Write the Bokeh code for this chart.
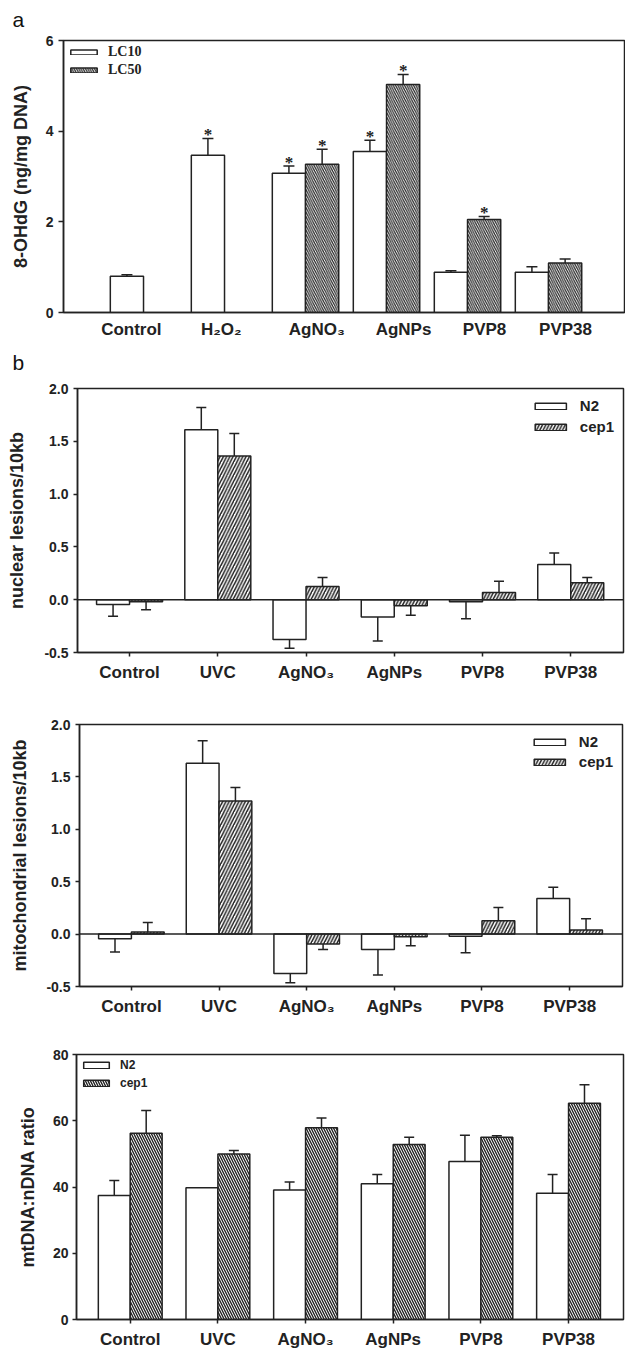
import math
from bokeh.plotting import figure
from bokeh.models import (ColumnDataSource, Whisker, TeeHead, FixedTicker, Span, LinearAxis,
                          Legend, LegendItem, Title, PrintfTickFormatter)
from bokeh.embed import file_html
from bokeh.resources import INLINE
from bokeh.core.properties import value

NaN = float("nan")

# ---------------- data: panel a (8-OHdG) ----------------
a_categories = ["Control", "H₂O₂", "AgNO₃", "AgNPs", "PVP8", "PVP38"]
a_lc10 = [0.80, 3.47, 3.07, 3.55, 0.89, 0.89]
a_lc10_se = [0.03, 0.37, 0.16, 0.25, 0.03, 0.12]
a_lc50 = [NaN, NaN, 3.27, 5.03, 2.05, 1.09]
a_lc50_se = [NaN, NaN, 0.33, 0.22, 0.07, 0.09]
a_lc10_sig = [False, True, True, True, False, False]
a_lc50_sig = [False, False, True, True, True, False]
a_yticks = [0, 2, 4, 6]

# ---------------- data: panel b ----------------
b_categories = ["Control", "UVC", "AgNO₃", "AgNPs", "PVP8", "PVP38"]
nuc_n2 = [-0.045, 1.61, -0.377, -0.164, -0.02, 0.333]
nuc_n2_se = [0.112, 0.21, 0.083, 0.226, 0.16, 0.11]
nuc_cep1 = [-0.02, 1.36, 0.125, -0.057, 0.069, 0.16]
nuc_cep1_se = [0.075, 0.215, 0.085, 0.091, 0.106, 0.05]

mito_n2 = [-0.045, 1.63, -0.375, -0.146, -0.02, 0.34]
mito_n2_se = [0.125, 0.215, 0.089, 0.244, 0.158, 0.107]
mito_cep1 = [0.02, 1.27, -0.095, -0.025, 0.127, 0.038]
mito_cep1_se = [0.09, 0.13, 0.051, 0.085, 0.127, 0.108]
lesion_yticks = [-0.5, 0.0, 0.5, 1.0, 1.5, 2.0]

ratio_n2 = [37.4, 39.8, 39.1, 41.0, 47.7, 38.1]
ratio_n2_se = [4.6, 0.0, 2.4, 2.8, 7.9, 5.7]
ratio_cep1 = [56.2, 50.0, 57.9, 52.8, 55.0, 65.3]
ratio_cep1_se = [6.9, 1.0, 2.9, 2.2, 0.5, 5.6]
ratio_yticks = [0, 20, 40, 60, 80]

# ---------------- styling ----------------
INK = "#222222"
FONT = "Liberation Sans"
SERIF = "Liberation Serif"
W = 625
# panel a labels were placed slightly off the group centres in the original
a_label_shift = [-0.15, -0.04, 0.14, 0.21, 0.21, 0.21]


def base_fig(height, x_range, y_range, borders):
    L, R, T, B = borders
    p = figure(width=W, height=height, x_range=x_range, y_range=y_range,
               output_backend="svg", toolbar_location=None,
               min_border_left=L, min_border_right=R,
               min_border_top=T, min_border_bottom=B)
    p.xgrid.visible = False
    p.ygrid.visible = False
    p.outline_line_color = INK
    p.outline_line_width = 1.5
    for ax in (p.xaxis[0], p.yaxis[0]):
        ax.axis_line_color = INK
        ax.axis_line_width = 1.5
        ax.major_tick_line_color = INK
        ax.major_tick_line_width = 1.5
        ax.minor_tick_line_color = None
        ax.major_tick_in = 0
        ax.major_label_text_font = FONT
        ax.major_label_text_color = INK
        ax.axis_label_text_font = FONT
        ax.axis_label_text_color = INK
    return p


def bars(p, offset, vals, width, **style):
    xs = [i + offset for i, v in enumerate(vals) if not math.isnan(v)]
    ys = [v for v in vals if not math.isnan(v)]
    src = ColumnDataSource(dict(x=xs, top=ys))
    return p.vbar(x="x", top="top", bottom=0, width=width, source=src,
                  fill_color="white", line_color=INK, line_width=1.5, **style)


def errors(p, offset, vals, ses, cap=10):
    up = dict(x=[], lo=[], hi=[])
    dn = dict(x=[], lo=[], hi=[])
    for i, (v, s) in enumerate(zip(vals, ses)):
        if math.isnan(v) or math.isnan(s) or s <= 0:
            continue
        if v >= 0:
            up["x"].append(i + offset); up["lo"].append(v); up["hi"].append(v + s)
        else:
            dn["x"].append(i + offset); dn["lo"].append(v - s); dn["hi"].append(v)
    if up["x"]:
        p.add_layout(Whisker(source=ColumnDataSource(up), base="x", lower="lo", upper="hi",
                             dimension="height", lower_head=None,
                             upper_head=TeeHead(size=cap, line_color=INK, line_width=1.5),
                             line_color=INK, line_width=1.5, level="annotation"))
    if dn["x"]:
        p.add_layout(Whisker(source=ColumnDataSource(dn), base="x", lower="lo", upper="hi",
                             dimension="height", upper_head=None,
                             lower_head=TeeHead(size=cap, line_color=INK, line_width=1.5),
                             line_color=INK, line_width=1.5, level="annotation"))


def stars(p, offset, vals, ses, sig):
    xs = [i + offset for i, s in enumerate(sig) if s]
    ys = [vals[i] + ses[i] for i, s in enumerate(sig) if s]
    p.text(x=xs, y=ys, text=["*"] * len(xs), text_font=value(SERIF),
           text_font_style="bold", text_font_size="17px", text_color=INK,
           text_align="center", text_baseline="middle", y_offset=-4)


def cat_axis(p, categories, size="17px", style="bold", shift=None, tick_out=4, standoff=6):
    pos = [i + (shift[i] if shift else 0.0) for i in range(len(categories))]
    ax = p.xaxis[0]
    ax.ticker = FixedTicker(ticks=pos)
    ax.major_label_overrides = {x: c for x, c in zip(pos, categories)}
    ax.major_label_text_font_size = size
    ax.major_label_text_font_style = style
    ax.major_tick_out = tick_out
    ax.major_label_standoff = standoff


def val_axis(p, ticks, label, fmt=None, label_size="14px", label_style="bold",
             title_size="18px", tick_out=4, standoff=5, title_standoff=14):
    ax = p.yaxis[0]
    ax.ticker = FixedTicker(ticks=ticks)
    if fmt:
        ax.formatter = PrintfTickFormatter(format=fmt)
    ax.major_label_text_font_size = label_size
    ax.major_label_text_font_style = label_style
    ax.major_tick_out = tick_out
    ax.major_label_standoff = standoff
    ax.axis_label = label
    ax.axis_label_text_font_size = title_size
    ax.axis_label_text_font_style = "bold"
    ax.axis_label_standoff = title_standoff


def legend(p, items, location, font, size, style, gw, gh, margin, padding, spacing, standoff):
    lg = Legend(items=[LegendItem(label=l, renderers=[r]) for l, r in items],
                location=location, glyph_width=gw, glyph_height=gh,
                label_text_font=font, label_text_font_size=size,
                label_text_font_style=style, label_text_color=INK,
                label_standoff=standoff, spacing=spacing, padding=padding,
                margin=margin, border_line_color=None, background_fill_alpha=0,
                label_height=10)
    p.add_layout(lg)


def panel_letter(p, letter, offset, gap_font, standoff):
    # an invisible axis (blank label) above the frame lifts the panel letter
    spacer = LinearAxis(ticker=FixedTicker(ticks=[]), axis_line_color=None,
                        major_tick_line_color=None, minor_tick_line_color=None,
                        major_tick_out=0, major_tick_in=0, minor_tick_out=0,
                        minor_tick_in=0, major_label_standoff=0,
                        axis_label=" ", axis_label_standoff=0,
                        axis_label_text_font_size=gap_font, axis_label_text_alpha=0)
    p.add_layout(spacer, "above")
    p.title = Title(text=letter, align="left", offset=offset, standoff=standoff,
                    text_font=FONT, text_font_size="21px", text_font_style="normal",
                    text_color="#111111")


# ---------------- panel a ----------------
pa = base_fig(345, (-0.988, 5.938), (0, 6), (63, 1, 40, 33))
wa = 0.41
r10 = bars(pa, -wa / 2, a_lc10, wa)
r50 = bars(pa, wa / 2, a_lc50, wa, hatch_pattern="\\", hatch_scale=4.5,
           hatch_weight=1.2, hatch_color=INK)
errors(pa, -wa / 2, a_lc10, a_lc10_se, cap=11)
errors(pa, wa / 2, a_lc50, a_lc50_se, cap=11)
stars(pa, -wa / 2, a_lc10, a_lc10_se, a_lc10_sig)
stars(pa, wa / 2, a_lc50, a_lc50_se, a_lc50_sig)
cat_axis(pa, a_categories, shift=a_label_shift, tick_out=0, standoff=7)
val_axis(pa, a_yticks, "8-OHdG (ng/mg DNA)", tick_out=5, standoff=5, title_standoff=12)
legend(pa, [("LC10", r10), ("LC50", r50)], "top_left", SERIF, "14px", "bold",
       33, 6, 4, 2, 2, 8)
panel_letter(pa, "a", -51, "7px", 0)

# ---------------- panel b: nuclear ----------------
wb = 0.374
pb = base_fig(350, (-0.59, 5.598), (-0.5, 2.0), (77, 2, 43, 43))
rn = bars(pb, -wb / 2, nuc_n2, wb)
rc = bars(pb, wb / 2, nuc_cep1, wb, hatch_pattern="/", hatch_scale=6.5,
          hatch_weight=1.5, hatch_color=INK)
errors(pb, -wb / 2, nuc_n2, nuc_n2_se)
errors(pb, wb / 2, nuc_cep1, nuc_cep1_se)
pb.add_layout(Span(location=0, dimension="width", line_color=INK, line_width=1.5))
cat_axis(pb, b_categories, tick_out=4, standoff=6)
val_axis(pb, lesion_yticks, "nuclear lesions/10kb", fmt="%.1f", title_standoff=14)
legend(pb, [("N2", rn), ("cep1", rc)], "top_right", FONT, "15px", "bold",
       39, 8, 9, 4, 4, 10)
panel_letter(pb, "b", -65, "11px", 0)

# ---------------- panel b: mitochondrial ----------------
pc = base_fig(335, (-0.592, 5.603), (-0.5, 2.0), (79, 3, 29, 44))
rn2 = bars(pc, -wb / 2, mito_n2, wb)
rc2 = bars(pc, wb / 2, mito_cep1, wb, hatch_pattern="/", hatch_scale=6.5,
           hatch_weight=1.5, hatch_color=INK)
errors(pc, -wb / 2, mito_n2, mito_n2_se)
errors(pc, wb / 2, mito_cep1, mito_cep1_se)
pc.add_layout(Span(location=0, dimension="width", line_color=INK, line_width=1.5))
cat_axis(pc, b_categories, tick_out=4, standoff=6)
val_axis(pc, lesion_yticks, "mitochondrial lesions/10kb", fmt="%.1f", title_standoff=13)
legend(pc, [("N2", rn2), ("cep1", rc2)], "top_right", FONT, "15px", "bold",
       39, 8, 9, 4, 3, 10)

# ---------------- panel b: mtDNA:nDNA ratio ----------------
wd = 0.364
pd_ = base_fig(323, (-0.613, 5.627), (0, 80), (76, 2, 24, 34))
rn3 = bars(pd_, -wd / 2, ratio_n2, wd)
rc3 = bars(pd_, wd / 2, ratio_cep1, wd, hatch_pattern="\\", hatch_scale=5,
           hatch_weight=1.4, hatch_color=INK)
errors(pd_, -wd / 2, ratio_n2, ratio_n2_se)
errors(pd_, wd / 2, ratio_cep1, ratio_cep1_se)
cat_axis(pd_, b_categories, tick_out=4, standoff=6)
val_axis(pd_, ratio_yticks, "mtDNA:nDNA ratio", tick_out=4, standoff=4, title_standoff=12)
legend(pd_, [("N2", rn3), ("cep1", rc3)], "top_left", FONT, "12px", "bold",
       32, 8, 4, 2, 4, 8)

# separate roots so that Bokeh does not align the frames of the four panels
open("out.html", "w").write(file_html([pa, pb, pc, pd_], INLINE))
